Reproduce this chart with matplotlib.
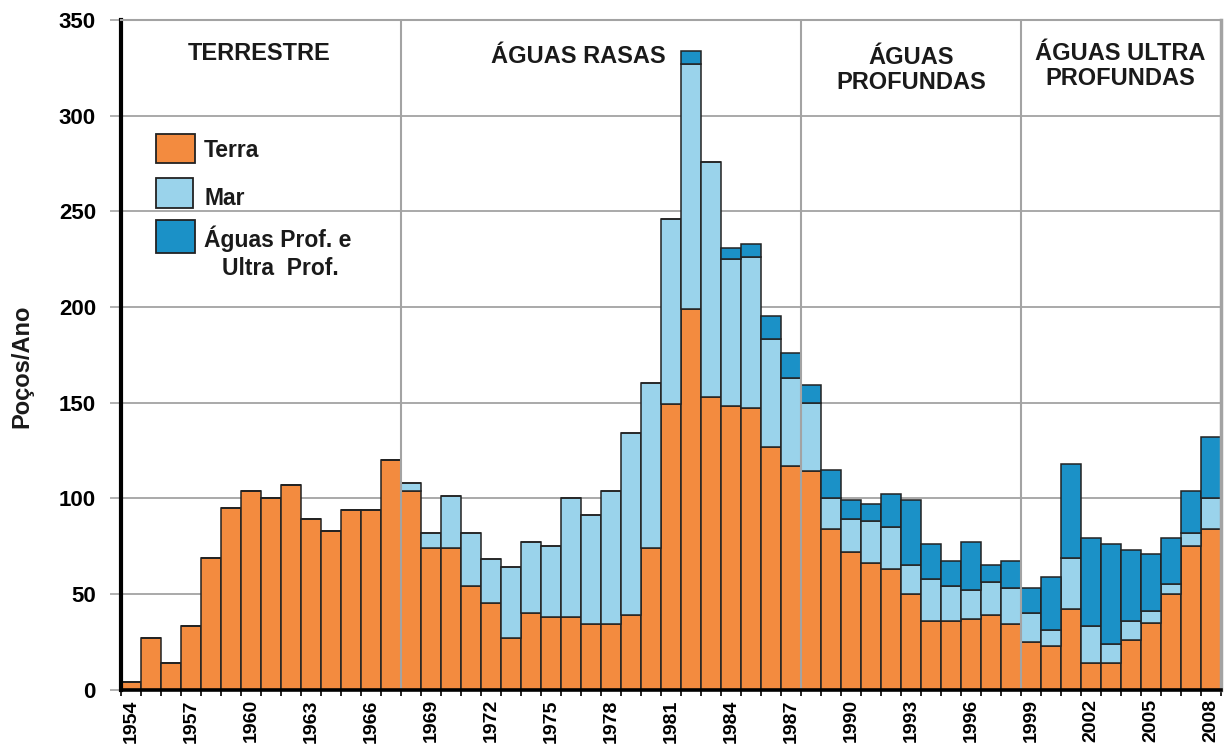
import matplotlib
matplotlib.use('Agg')
import matplotlib.pyplot as plt
from matplotlib.patches import Rectangle
import numpy as np

# ---------------- data ----------------
years = list(range(1954, 2009))
terra = [4, 27, 14, 33, 69, 95, 104, 100, 107, 89, 83, 94, 94, 120,
         104, 74, 74, 54, 45, 27, 40, 38, 38, 34, 34, 39, 74,
         149, 199, 153, 148, 147, 127, 117, 114, 84, 72, 66, 63, 50,
         36, 36, 37, 39, 34, 25, 23, 42, 14, 14, 26, 35, 50, 75, 84]
mar = [0, 0, 0, 0, 0, 0, 0, 0, 0, 0, 0, 0, 0, 0,
       4, 8, 27, 28, 23, 37, 37, 37, 62, 57, 70, 95, 86,
       97, 128, 123, 77, 79, 56, 46, 36, 16, 17, 22, 22, 15,
       22, 18, 15, 17, 19, 15, 8, 27, 19, 10, 10, 6, 5, 7, 16]
profundas = [0, 0, 0, 0, 0, 0, 0, 0, 0, 0, 0, 0, 0, 0,
             0, 0, 0, 0, 0, 0, 0, 0, 0, 0, 0, 0, 0,
             0, 7, 0, 6, 7, 12, 13, 9, 15, 10, 9, 17, 34,
             18, 13, 25, 9, 14, 13, 28, 49, 46, 52, 37, 30, 24, 22, 32]

tick_years = list(range(1954, 2009, 3))
y_ticks = [0, 50, 100, 150, 200, 250, 300, 350]

region_labels = ["TERRESTRE", "ÁGUAS RASAS", "ÁGUAS\nPROFUNDAS", "ÁGUAS ULTRA\nPROFUNDAS"]
region_x = [1960.4, 1976.35, 1993.0, 2003.45]
region_y = [329, 327.5, 314, 316]
region_boundaries = [1967.5, 1987.5, 1998.5]

legend_labels = ["Terra", "Mar", "Águas Prof. e", "Ultra  Prof."]

c_terra = '#F38B3F'
c_mar = '#9AD3EB'
c_prof = '#1B91C7'
edge = '#222222'
grid_c = '#A3A3A3'

plt.rcParams['font.family'] = ['Liberation Sans', 'DejaVu Sans']
plt.rcParams['font.weight'] = 'bold'

W, H = 1225, 744
fig = plt.figure(figsize=(W / 100, H / 100), dpi=100)
ax = fig.add_axes([121 / W, 54.5 / H, 1100 / W, 669.5 / H])

t = np.array(terra)
m = np.array(mar)
p = np.array(profundas)
ax.bar(years, t, width=1.0, color=c_terra, edgecolor=edge, linewidth=1.1, zorder=2)
ax.bar(years, m, bottom=t, width=1.0, color=c_mar, edgecolor=edge, linewidth=1.1, zorder=2)
ax.bar(years, p, bottom=t + m, width=1.0, color=c_prof, edgecolor=edge, linewidth=1.1, zorder=2)

ax.set_xlim(1953.5, 2008.5)
ax.set_ylim(0, 350)

# grid
ax.set_yticks(y_ticks)
ax.set_yticklabels([str(v) for v in y_ticks], fontsize=16, fontweight='bold')
ax.yaxis.grid(True, color=grid_c, linewidth=1.3, zorder=0)
ax.set_axisbelow(True)
ax.tick_params(axis='y', length=8, width=1.2, color=grid_c, pad=10)

for b in region_boundaries:
    ax.axvline(b, color=grid_c, linewidth=1.5, zorder=3)

# x ticks
ax.set_xticks(tick_years)
ax.set_xticklabels([str(y) for y in tick_years], rotation=90, fontsize=14, fontweight='bold')
ax.set_xticks(np.arange(1953.5, 2009, 1.0), minor=True)
ax.tick_params(axis='x', which='major', length=0, pad=7)
ax.tick_params(axis='x', which='minor', length=4, width=1.2, color='black')

# spines
ax.spines['left'].set_color('black')
ax.spines['left'].set_linewidth(3)
ax.spines['bottom'].set_color('black')
ax.spines['bottom'].set_linewidth(2.6)
ax.spines['bottom'].set_zorder(4)
ax.spines['top'].set_color(grid_c)
ax.spines['top'].set_linewidth(1.5)
ax.spines['right'].set_color(grid_c)
ax.spines['right'].set_linewidth(2.5)

# region labels
for s, x, y in zip(region_labels, region_x, region_y):
    ax.text(x, y, s, ha='center', va='baseline', fontsize=17, fontweight='bold',
            linespacing=1.1, color='#1a1a1a', zorder=5)

# y label
fig.text(22 / W, 1 - 366 / H, "Poços/Ano", rotation=90, ha='center', va='center',
         fontsize=17, fontweight='bold', color='#1a1a1a')

# legend (manual)
def fx(x):
    return x / W

def fy(y):
    return 1 - y / H

patches = [(155.7, 134, 39.3, 28.7, c_terra),
           (155.7, 178, 37.5, 30, c_mar),
           (155.7, 220, 38.8, 33, c_prof)]
for x0, y0, w, h, c in patches:
    fig.add_artist(Rectangle((fx(x0), fy(y0 + h)), w / W, h / H, transform=fig.transFigure,
                             facecolor=c, edgecolor=edge, linewidth=1.3))
legend_pos = [(204, 157), (204, 205), (204, 247), (221.7, 275)]
for s, (x, y) in zip(legend_labels, legend_pos):
    fig.text(fx(x), fy(y), s, ha='left', va='baseline', fontsize=16.5, fontweight='bold',
             color='#1a1a1a')

fig.savefig('out.png', dpi=100)
